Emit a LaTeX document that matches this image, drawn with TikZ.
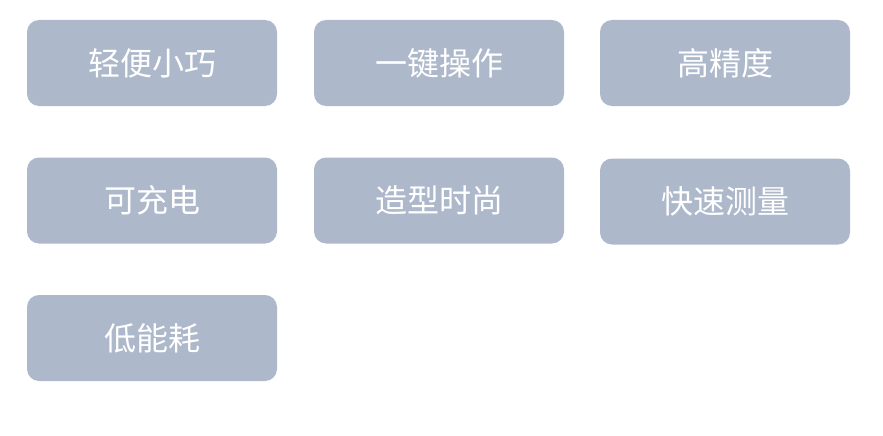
\documentclass[tikz,border=0pt]{standalone}
\usepackage{fontspec}
\newfontfamily\cjk{Noto Sans CJK SC}
\definecolor{boxc}{HTML}{ADB8CB}
\begin{document}
\begin{tikzpicture}[x=1pt,y=-1pt,
  tag/.style={fill=boxc,rounded corners=12pt,minimum width=250pt,minimum height=86pt,inner sep=0pt,text=white,font=\cjk\fontsize{32}{38}\selectfont}]
\useasboundingbox (0,0) rectangle (883,436);
\node[tag] (a) at (152,63) {轻便小巧};
\node[tag] (b) at (439,63) {一键操作};
\node[tag] (c) at (725,63) {高精度};
\node[tag] (d) at (152,200.5) {可充电};
\node[tag] (e) at (439,200.5) {造型时尚};
\node[tag] (f) at (725,201.5) {快速测量};
\node[tag] (g) at (152,338) {低能耗};
\end{tikzpicture}
\end{document}
